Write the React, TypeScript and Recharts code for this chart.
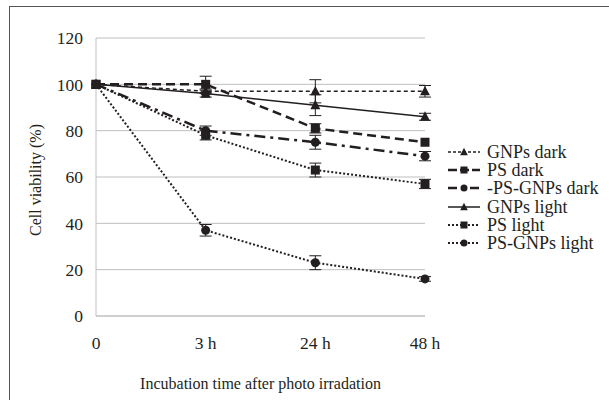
import React from "react";
import { LineChart, Line, XAxis, YAxis, CartesianGrid, ErrorBar } from "recharts";

const categories = ["0", "3 h", "24 h", "48 h"];
const gnpsDark = [100, 97, 97, 97];
const gnpsDarkErr = [0, 1, 5, 2.5];
const psDark = [100, 100, 81, 75];
const psDarkErr = [0, 3.5, 2, 0];
const psGnpsDark = [100, 80, 75, 69];
const psGnpsDarkErr = [0, 2, 3, 2];
const gnpsLight = [100, 96, 91, 86];
const gnpsLightErr = [0, 1.5, 4.5, 1.5];
const psLight = [100, 78, 63, 57];
const psLightErr = [0, 2, 3, 2];
const psGnpsLight = [100, 37, 23, 16];
const psGnpsLightErr = [0, 2.5, 3, 1];
const yTicks = [0, 20, 40, 60, 80, 100, 120];

const data = categories.map((c, i) => ({
  t: c,
  gd: gnpsDark[i], gdE: gnpsDarkErr[i],
  pd: psDark[i], pdE: psDarkErr[i],
  pgd: psGnpsDark[i], pgdE: psGnpsDarkErr[i],
  gl: gnpsLight[i], glE: gnpsLightErr[i],
  pl: psLight[i], plE: psLightErr[i],
  pgl: psGnpsLight[i], pglE: psGnpsLightErr[i],
}));

const FONT = "'Liberation Serif', serif";
const INK = "#231f20";

type Shape = "triangle" | "square" | "circle";

function marker(shape: Shape, cx: number, cy: number, s: number, key?: string) {
  if (shape === "triangle") {
    return <path key={key} d={`M${cx},${cy - s * 0.6} L${cx + s * 0.55},${cy + s * 0.45} L${cx - s * 0.55},${cy + s * 0.45} Z`} fill={INK} />;
  }
  if (shape === "square") {
    return <rect key={key} x={cx - s / 2} y={cy - s / 2} width={s} height={s} fill={INK} />;
  }
  return <circle key={key} cx={cx} cy={cy} r={s / 2} fill={INK} />;
}

const series = [
  { key: "gd", err: "gdE", name: "GNPs dark", dash: "4 3", width: 1.5, shape: "triangle" as Shape, legDash: "3 2" },
  { key: "pd", err: "pdE", name: "PS dark", dash: "9 5", width: 2.5, shape: "square" as Shape, legDash: "9 3" },
  { key: "pgd", err: "pgdE", name: "-PS-GNPs dark", dash: "11 5 3 5", width: 2.5, shape: "circle" as Shape, legDash: "9 5 3 5" },
  { key: "gl", err: "glE", name: "GNPs light", dash: undefined, width: 1.5, shape: "triangle" as Shape, legDash: undefined },
  { key: "pl", err: "plE", name: "PS light", dash: "2 2", width: 2, shape: "square" as Shape, legDash: "2 2" },
  { key: "pgl", err: "pglE", name: "PS-GNPs light", dash: "2 2", width: 2, shape: "circle" as Shape, legDash: "2 2" },
];

const LegendBox = () => (
  <div style={{ position: "absolute", left: 448, top: 143, fontFamily: FONT, fontSize: 18, color: INK, lineHeight: "18.2px", whiteSpace: "nowrap" }}>
    {series.map((s) => (
      <div key={s.key} style={{ display: "flex", alignItems: "center", height: 18.2 }}>
        <svg width={32} height={14} style={{ marginRight: 7 }}>
          <line x1={0} y1={7} x2={32} y2={7} stroke={INK} strokeWidth={s.width} strokeDasharray={s.legDash} />
          {marker(s.shape, 16, 7, 7)}
        </svg>
        <span>{s.name}</span>
      </div>
    ))}
  </div>
);

export default function App() {
  return (
    <div style={{ position: "absolute", left: 0, top: 0, width: 609, height: 400, background: "#fff", overflow: "hidden" }}>
      <div style={{ position: "absolute", left: 9, top: 6, width: 620, height: 420, borderTop: "1.5px solid #555", borderLeft: "1.5px solid #555" }} />
      <LineChart
        width={609}
        height={400}
        data={data}
        margin={{ top: 38, right: 184, left: 0, bottom: 0 }}
        style={{ position: "absolute", left: 0, top: 0 }}
      >
        <CartesianGrid vertical={false} stroke="#bfbfbf" strokeWidth={1} />
        <XAxis
          dataKey="t"
          height={84}
          tickLine={false}
          axisLine={{ stroke: "#bfbfbf" }}
          tickMargin={15}
          tick={{ fill: INK, fontSize: 17.5, fontFamily: FONT }}
          label={{ value: "Incubation time after photo irradation", position: "insideBottom", offset: 11, fill: INK, fontSize: 16, fontFamily: FONT }}
        />
        <YAxis
          width={96}
          domain={[0, 120]}
          ticks={yTicks}
          tickLine={false}
          axisLine={{ stroke: "#bfbfbf" }}
          tickMargin={7}
          tick={{ fill: INK, fontSize: 17.5, fontFamily: FONT }}
          label={{ value: "Cell viability (%)", angle: -90, position: "insideLeft", offset: 35, dy: 3, fill: INK, fontSize: 16, fontFamily: FONT, style: { textAnchor: "middle" } }}
        />
        {series.map((s) => (
          <Line
            key={s.key}
            dataKey={s.key}
            name={s.name}
            stroke={INK}
            strokeWidth={s.width}
            strokeDasharray={s.dash}
            isAnimationActive={false}
            dot={(p: any) => marker(s.shape, p.cx, p.cy, 9, `${s.key}-${p.index}`)}
            activeDot={false}
          >
            <ErrorBar dataKey={s.err} width={6} stroke={INK} strokeWidth={1} direction="y" />
          </Line>
        ))}
      </LineChart>
      <LegendBox />
    </div>
  );
}
